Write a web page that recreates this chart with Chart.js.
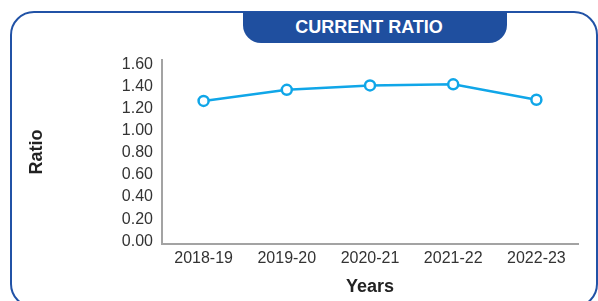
<!DOCTYPE html>
<html lang="en">
<head>
  <meta charset="UTF-8" />
  <title>Current Ratio</title>
  <script src="https://cdn.jsdelivr.net/npm/chart.js"></script>
  <style>
    body {
      margin: 0;
      background: #fff;
      font-family: 'Liberation Sans', Arial, sans-serif;
    }

    .wrap {
      position: relative;
      width: 598px;
      height: 301px;
      overflow: hidden;
    }

    .frame {
      position: absolute;
      left: 10px;
      top: 11px;
      width: 584px;
      height: 293px;
      border: 2.5px solid #2152a6;
      border-radius: 24px;
    }

    .tab {
      position: absolute;
      left: 243px;
      top: 12px;
      width: 264px;
      height: 31px;
      background: #1f4f9f;
      border-radius: 0 0 18px 18px;
      color: #fff;
      font-weight: bold;
      font-size: 18px;
      line-height: 30px;
      text-align: center;
      text-indent: -12px;
    }

    canvas {
      position: absolute;
      left: 0;
      top: 0;
    }
  </style>
</head>
<body>
  <div class="wrap">
    <div class="frame"></div>
    <div class="tab">CURRENT RATIO</div>
    <canvas id="ratioChart" width="598" height="301"></canvas>
  </div>

  <script>
    const years = ['2018-19', '2019-20', '2020-21', '2021-22', '2022-23'];
    const ratio = [1.27, 1.37, 1.41, 1.42, 1.28];
    const yTicks = [0, 0.2, 0.4, 0.6, 0.8, 1.0, 1.2, 1.4, 1.6];

    const font = 'Liberation Sans, Arial, sans-serif';
    const blue = '#10a6e8';

    const ctx = document.getElementById('ratioChart').getContext('2d');

    new Chart(ctx, {
      type: 'line',
      data: {
        labels: years,
        datasets: [{
          label: 'Current Ratio',
          data: ratio,
          borderColor: blue,
          borderWidth: 2.5,
          pointBackgroundColor: '#fff',
          pointBorderColor: blue,
          pointBorderWidth: 2.5,
          pointRadius: 5,
          tension: 0
        }]
      },
      options: {
        responsive: false,
        animation: false,
        layout: { padding: { left: 0, top: 60, right: 20, bottom: 0 } },
        plugins: {
          legend: { display: false },
          tooltip: { enabled: false }
        },
        scales: {
          x: {
            offset: true,
            grid: { display: false, drawTicks: false },
            border: { display: true, color: '#a3a3a3', width: 2 },
            ticks: { color: '#333', padding: 5, font: { family: font, size: 16 } },
            title: {
              display: true,
              text: 'Years',
              color: '#222',
              padding: { top: 0, bottom: 3 },
              font: { family: font, size: 18, weight: 'bold' }
            },
            afterFit: s => { s.height = 57; }
          },
          y: {
            min: -0.025,
            max: 1.64,
            grid: { display: false, drawTicks: false },
            border: { display: true, color: '#a3a3a3', width: 2 },
            afterBuildTicks: s => { s.ticks = yTicks.map(v => ({ value: v })); },
            ticks: {
              color: '#333',
              padding: 9,
              font: { family: font, size: 16 },
              callback: v => v.toFixed(2)
            },
            title: {
              display: true,
              text: 'Ratio',
              color: '#222',
              padding: { top: 26, bottom: 0 },
              font: { family: font, size: 18, weight: 'bold' }
            },
            afterFit: s => { s.width = 162; }
          }
        }
      }
    });
  </script>
</body>
</html>
